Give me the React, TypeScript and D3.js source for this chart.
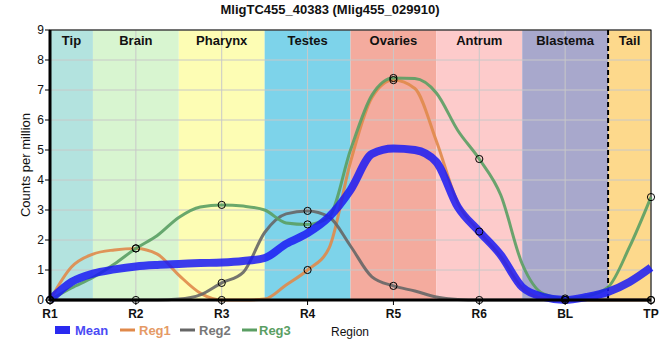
import React from "react";
import * as d3 from "d3";

const categories = ["R1", "R2", "R3", "R4", "R5", "R6", "BL", "TP"];
// traced values at quarter-category steps (R1, R1+¼, ... TP); every 4th value is a measured point
const reg1 = [0, 1.1, 1.53, 1.67, 1.72, 1.53, 0.83, 0.23, 0, 0, 0.03, 0.5, 1.0, 1.73, 4.6, 6.75, 7.33, 7.05, 5.3, 3.23, 2.28, 1.45, 0.4, 0.05, 0, 0, 0, 0, 0];
const reg2 = [0, 0, 0, 0, 0, 0, 0.03, 0.17, 0.57, 0.92, 2.25, 2.87, 2.97, 2.77, 1.8, 0.77, 0.47, 0.3, 0.1, 0.02, 0, 0, 0, 0, 0, 0, 0, 0, 0];
const reg3 = [0, 0.4, 0.75, 1.2, 1.72, 2.15, 2.75, 3.1, 3.17, 3.13, 3.0, 2.57, 2.52, 2.77, 5.0, 6.83, 7.4, 7.38, 6.9, 5.65, 4.7, 3.5, 1.2, 0.2, 0.05, 0.13, 0.43, 1.77, 3.43];
const meanTrace = [0, 0.6, 0.88, 1.02, 1.12, 1.17, 1.2, 1.23, 1.25, 1.3, 1.4, 1.87, 2.23, 2.77, 3.67, 4.87, 5.05, 5.0, 4.6, 3.1, 2.28, 1.5, 0.43, 0.1, 0, 0.1, 0.27, 0.6, 1.08];
const regionNames = ["Tip", "Brain", "Pharynx", "Testes", "Ovaries", "Antrum", "Blastema", "Tail"];
const regionStarts = [0, 0.5, 1.5, 2.5, 3.5, 4.5, 5.5, 6.5];
const regionEnds = [0.5, 1.5, 2.5, 3.5, 4.5, 5.5, 6.5, 7];
const regionColors = ["#b3e3df", "#d8f5d0", "#fdfdb4", "#7dd3ea", "#f4ab9e", "#fdcbcb", "#a8a8cc", "#fdd98c"];
const yTicks = [0, 1, 2, 3, 4, 5, 6, 7, 8, 9];
const STEP = 0.25;

const W = 660, H = 360;
const L = 50, R = 651, T = 30, B = 300;
const font = "'Liberation Sans', Arial, sans-serif";

export default function App() {
  const x = d3.scaleLinear().domain([0, categories.length - 1]).range([L, R]);
  const y = d3.scaleLinear().domain([0, 9]).range([B, T]);
  const line = d3
    .line<number>()
    .x((_, i) => x(i * STEP))
    .y((d) => y(d))
    .curve(d3.curveMonotoneX);
  const series = [
    { name: "Reg1", vals: reg1, color: "#e0894a", w: 3 },
    { name: "Reg2", vals: reg2, color: "#666666", w: 3 },
    { name: "Reg3", vals: reg3, color: "#5a9e63", w: 3 },
  ];
  const legend = [
    { name: "Mean", color: "#2a2af0", text: "#4a4af5", lx: 55, tx: 75, w: 8 },
    { name: "Reg1", color: "#e0894a", text: "#e59a66", lx: 120, tx: 139, w: 3 },
    { name: "Reg2", color: "#666666", text: "#777777", lx: 180, tx: 199, w: 3 },
    { name: "Reg3", color: "#5a9e63", text: "#5a9e63", lx: 242, tx: 259, w: 3 },
  ];
  const per = Math.round(1 / STEP);
  return (
    <svg width={W} height={H} style={{ position: "absolute", left: 0, top: 0 }} fontFamily={font}>
      <rect width={W} height={H} fill="#fff" />
      {regionNames.map((n, i) => (
        <rect key={n} x={x(regionStarts[i])} y={T} width={x(regionEnds[i]) - x(regionStarts[i])} height={B - T} fill={regionColors[i]} />
      ))}
      {yTicks.map((t) => (
        <line key={"gy" + t} x1={L} x2={R} y1={y(t)} y2={y(t)} stroke="#c8c8c8" strokeWidth={1} />
      ))}
      {categories.map((c, i) => (
        <line key={"gx" + c} x1={x(i)} x2={x(i)} y1={T} y2={B} stroke="#c8c8c8" strokeWidth={1} />
      ))}
      {regionNames.map((n, i) => (
        <text key={"rl" + n} x={(x(regionStarts[i]) + x(regionEnds[i])) / 2} y={45} textAnchor="middle" fontSize={13} fontWeight="bold" fill="#111">{n}</text>
      ))}
      <line x1={x(6.5)} x2={x(6.5)} y1={T} y2={B} stroke="#000" strokeWidth={2} strokeDasharray="5,3" />
      <rect x={L} y={T} width={R - L} height={B - T} fill="none" stroke="#000" strokeWidth={1} />
      {series.map((s) => (
        <path key={s.name} d={line(s.vals) || ""} fill="none" stroke={s.color} strokeWidth={s.w} strokeOpacity={0.9} />
      ))}
      <path d={line(meanTrace) || ""} fill="none" stroke="#1a1af5" strokeWidth={8} strokeOpacity={0.85} />
      <line x1={L} x2={L} y1={T} y2={B + 1} stroke="#000" strokeWidth={3} />
      <line x1={L} x2={R} y1={B} y2={B} stroke="#000" strokeWidth={3} />
      {series.map((s) =>
        s.vals.map((v, k) =>
          k % per === 0 ? (
            <circle key={s.name + k} cx={x(k * STEP)} cy={y(v)} r={3.6} fill="none" stroke="#000" strokeWidth={1} />
          ) : null
        )
      )}
      {yTicks.map((t) => (
        <g key={"ty" + t}>
          <line x1={L - 5} x2={L} y1={y(t)} y2={y(t)} stroke="#000" strokeWidth={1} />
          <text x={L - 6} y={y(t) + 4} textAnchor="end" fontSize={12} fill="#111">{t}</text>
        </g>
      ))}
      {categories.map((c, i) => (
        <g key={"tx" + c}>
          <line x1={x(i)} x2={x(i)} y1={B} y2={B + 5} stroke="#000" strokeWidth={1} />
          <text x={x(i)} y={318} textAnchor="middle" fontSize={12} fontWeight="bold" fill="#111">{c}</text>
        </g>
      ))}
      <text x={330} y={14} textAnchor="middle" fontSize={13} fontWeight="bold" fill="#111">MligTC455_40383 (Mlig455_029910)</text>
      <text transform={`translate(30,${(T + B) / 2}) rotate(-90)`} textAnchor="middle" fontSize={13} fill="#111">Counts per million</text>
      <text x={331} y={336} fontSize={12} fill="#111">Region</text>
      {legend.map((l) => (
        <g key={"lg" + l.name}>
          <line x1={l.lx} x2={l.lx + 15} y1={330} y2={330} stroke={l.color} strokeWidth={l.w} />
          <text x={l.tx} y={335} fontSize={13} fontWeight="bold" fill={l.text}>{l.name}</text>
        </g>
      ))}
    </svg>
  );
}
